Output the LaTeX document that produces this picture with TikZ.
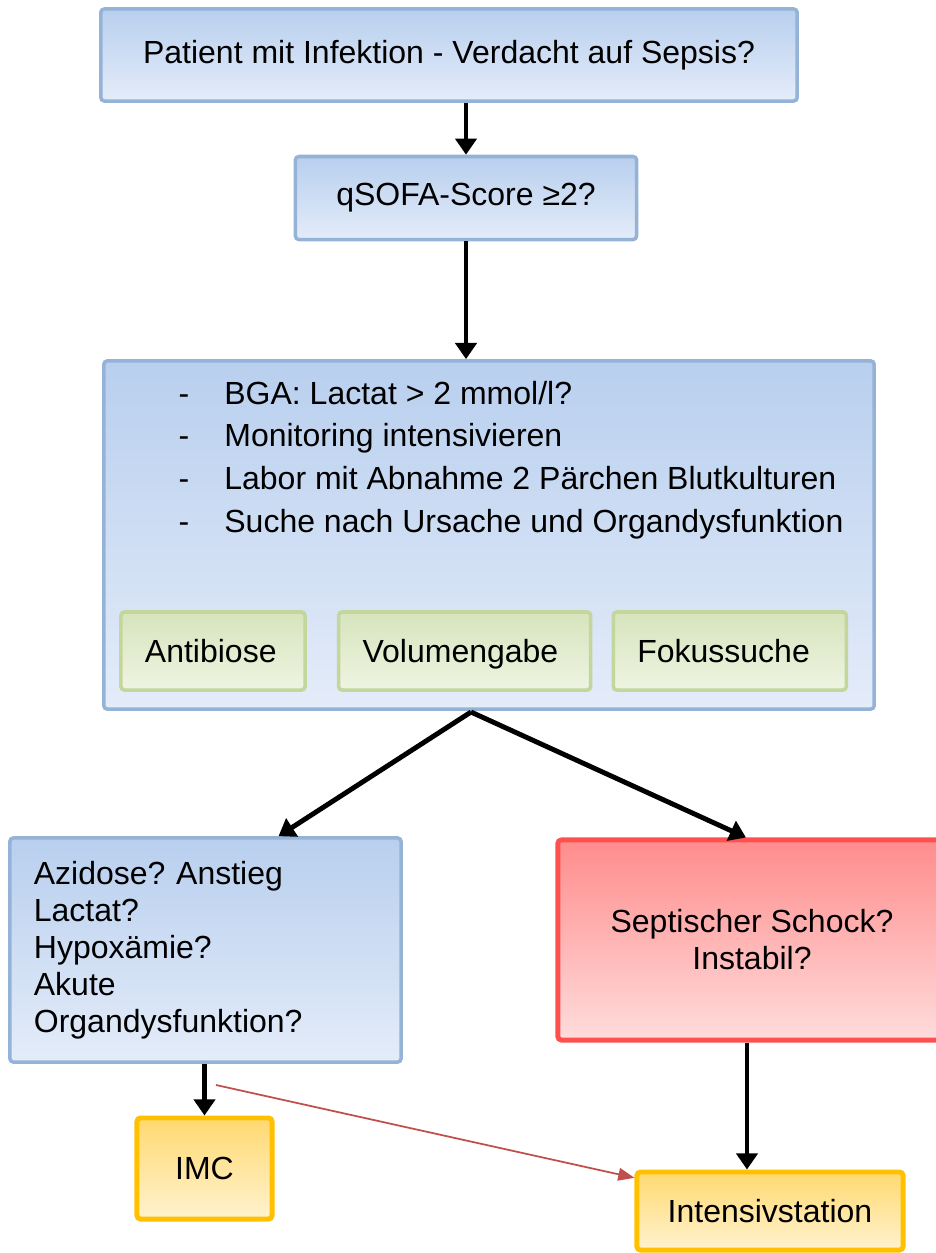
\documentclass[tikz,border=0pt]{standalone}
\usepackage{fontspec}
\setmainfont{Liberation Sans}
\usepackage{xcolor}
\usetikzlibrary{shapes,arrows.meta,positioning,calc}

\definecolor{blaurand}{HTML}{95B3D7}
\definecolor{blauoben}{HTML}{B8CFEE}
\definecolor{blauunten}{HTML}{E4ECF9}
\definecolor{gruenrand}{HTML}{C3D69B}
\definecolor{gruenoben}{HTML}{D7E4BC}
\definecolor{gruenunten}{HTML}{EEF4E2}
\definecolor{rotrand}{HTML}{FF5050}
\definecolor{rotoben}{HTML}{FF8C8C}
\definecolor{rotunten}{HTML}{FFDCDC}
\definecolor{gelbrand}{HTML}{FFC000}
\definecolor{gelboben}{HTML}{FFD970}
\definecolor{gelbunten}{HTML}{FFF2CF}
\definecolor{pfeilrot}{HTML}{C0504D}

\frenchspacing

\begin{document}
\begin{tikzpicture}[x=0.01cm, y=-0.01cm, every node/.style={font=\fontsize{9.1}{10.5}\selectfont},
	blau/.style={rectangle, draw=blaurand, line width=1pt, rounded corners=1pt, top color=blauoben, bottom color=blauunten},
	gruen/.style={rectangle, draw=gruenrand, line width=1pt, rounded corners=1pt, top color=gruenoben, bottom color=gruenunten, minimum height=0.78cm, inner xsep=0.24cm, align=left, text height=1.6ex, text depth=0.4ex},
	rot/.style={rectangle, draw=rotrand, line width=1.4pt, rounded corners=1pt, top color=rotoben, bottom color=rotunten},
	gelb/.style={rectangle, draw=gelbrand, line width=1.4pt, rounded corners=1pt, top color=gelboben, bottom color=gelbunten},
	pfeil/.style={-{Triangle[width=6pt,length=4.6pt]}, line width=1.4pt},
	rotpfeil/.style={-{Triangle[width=3.6pt,length=4.6pt]}, draw=pfeilrot, fill=pfeilrot, line width=0.5pt}]
	\useasboundingbox (0,0) rectangle (936,1253);
	
	\node[blau, minimum width=6.96cm, minimum height=0.92cm] (patient) at (449,55) {Patient mit Infektion - Verdacht auf Sepsis?};
	\node[blau, minimum width=3.41cm, minimum height=0.83cm] (qsofa) at (466,198) {qSOFA-Score ≥2?};
	
	% Diagnostik und Therapie
	\node[blau, minimum width=7.70cm, minimum height=3.48cm] (bga) at (489,535) {};
	\node[anchor=base west, inner sep=0pt, font=\fontsize{9.1}{12.2}\selectfont] (liste) at (178,404) {%
		\begin{tabular}[t]{@{}l@{\hspace{0.35cm}}l@{}}
			- & BGA: Lactat > 2 mmol/l?\\
			- & Monitoring intensivieren\\
			- & Labor mit Abnahme 2 Pärchen Blutkulturen\\
			- & Suche nach Ursache und Organdysfunktion
		\end{tabular}};
	\node[gruen, text width=1.36cm] (abx) at (213,651) {Antibiose};
	\node[gruen, text width=2.04cm, right=0.30cm of abx] (vol) {Volumengabe};
	\node[gruen, text width=1.85cm, right=0.19cm of vol] (fokus) {Fokussuche};
	
	\node[blau, text width=3.43cm, inner xsep=0.24cm, minimum height=2.24cm, align=left] (azid) at (205.5,950) {Azidose? Anstieg\\Lactat?\\Hypoxämie?\\Akute\\Organdysfunktion?};
	\node[rot, minimum width=3.88cm, minimum height=2.0cm, align=center] (schock) at (752,940) {Septischer Schock?\\Instabil?};
	
	\node[gelb, minimum width=1.35cm, minimum height=1.01cm] (imc) at (204.5,1168.5) {IMC};
	\node[gelb, minimum width=2.66cm, minimum height=0.78cm] (its) at (770,1211) {Intensivstation};
	
	\coordinate (gabel) at (471,712);
	\coordinate (rotstart) at (216,1085);
	
	\draw[pfeil] (patient.south -| qsofa) -- (qsofa.north);
	\draw[pfeil] (qsofa.south) -- (qsofa.south |- bga.north);
	\draw[pfeil] (gabel) -- ($(azid.north)!0.37!(azid.north east)$);
	\draw[pfeil] (gabel) -- ($(schock.north)+(-6,0)$);
	\draw[pfeil] (imc.north |- azid.south) -- (imc.north);
	\draw[pfeil] ($(schock.south)+(-5,0)$) -- ($(schock.south |- its.north)+(-5,0)$);
	\draw[rotpfeil] (rotstart) -- ($(its.north west)!0.1!(its.south west)$);
\end{tikzpicture}
\end{document}
